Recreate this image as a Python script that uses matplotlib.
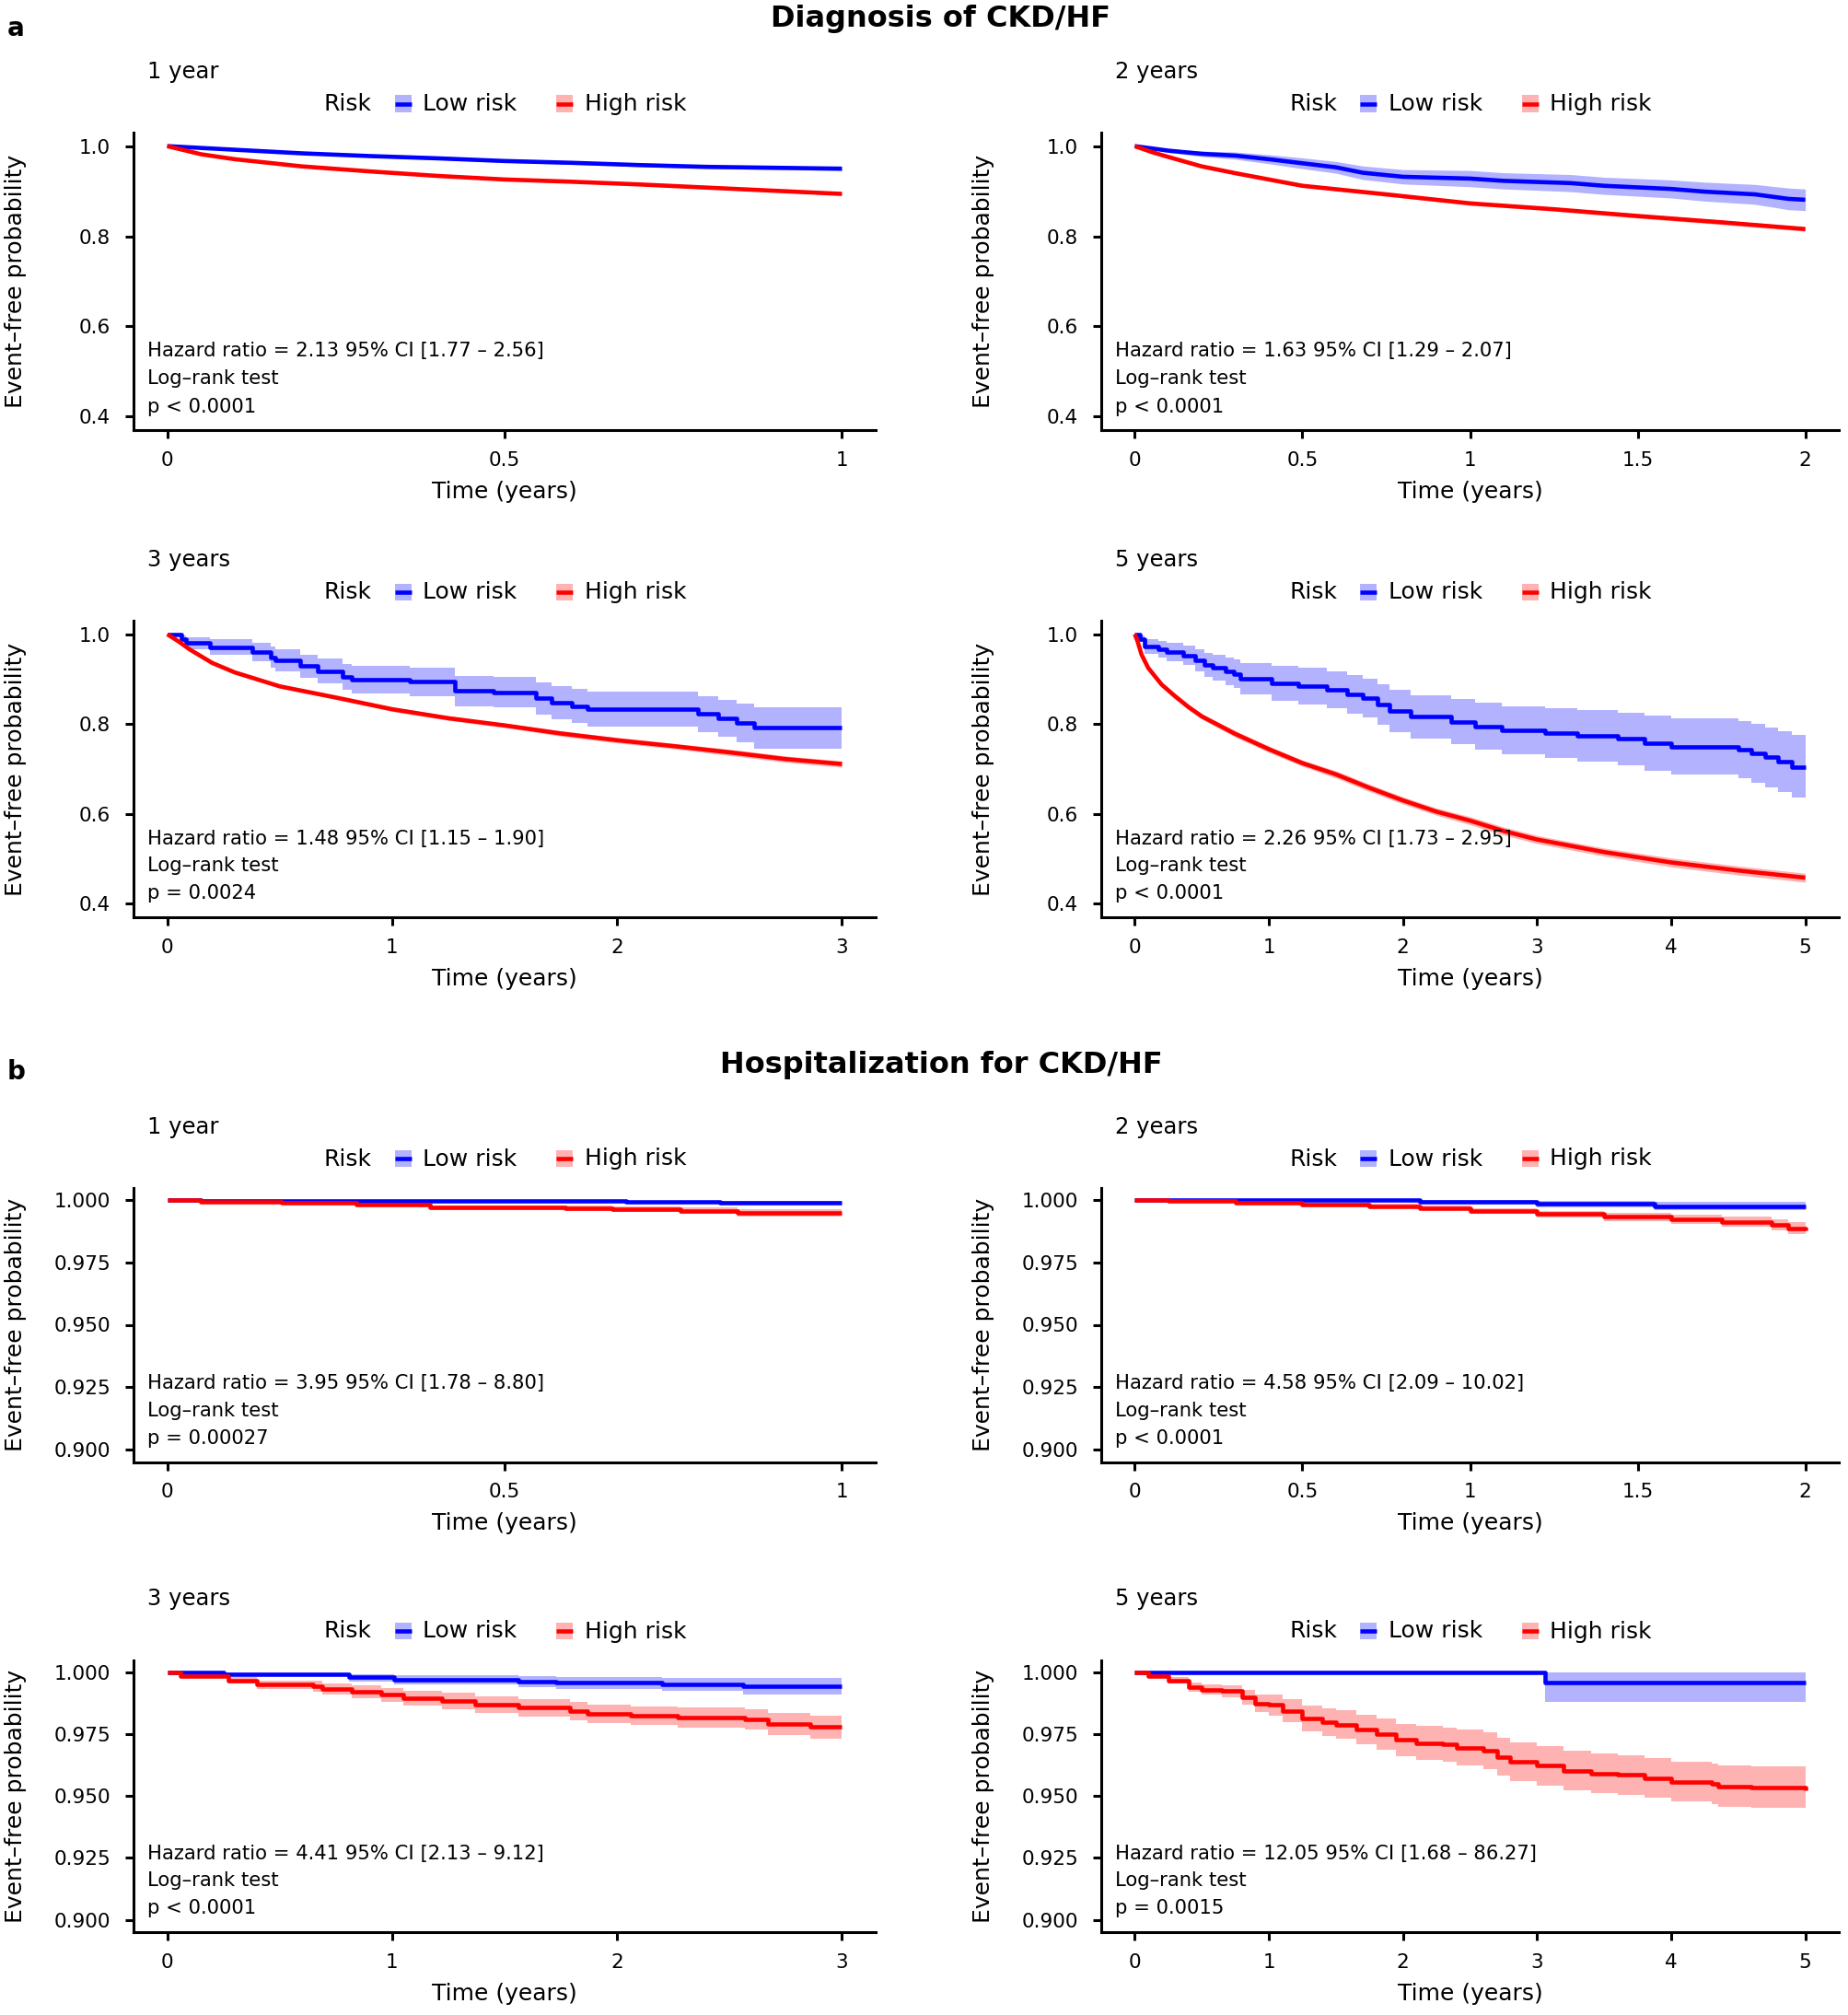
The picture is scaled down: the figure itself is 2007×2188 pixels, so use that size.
import matplotlib
matplotlib.use('Agg')
import matplotlib.pyplot as plt
from matplotlib.patches import Rectangle
from matplotlib.lines import Line2D

W, H = 2007, 2188
plt.rcParams['font.family'] = ['DejaVu Sans']

# ---------------- data ----------------
# (a) Diagnosis of CKD/HF
a1_low_t = [0, 0.1, 0.2, 0.3, 0.4, 0.5, 0.6, 0.7, 0.8, 0.9, 1.0]
a1_low_s = [1.0, 0.992, 0.984, 0.978, 0.973, 0.967, 0.963, 0.958, 0.954, 0.952, 0.950]
a1_low_hi = [1.0, 0.9935, 0.986, 0.9805, 0.976, 0.970, 0.9665, 0.9615, 0.958, 0.956, 0.9545]
a1_low_lo = [1.0, 0.9905, 0.982, 0.9755, 0.970, 0.964, 0.9595, 0.9545, 0.950, 0.948, 0.9455]
a1_high_t = [0, 0.05, 0.1, 0.15, 0.2, 0.3, 0.4, 0.5, 0.6, 0.7, 0.8, 0.9, 1.0]
a1_high_s = [1.0, 0.982, 0.971, 0.963, 0.955, 0.944, 0.934, 0.926, 0.921, 0.915, 0.908, 0.901, 0.894]
a1_high_hi = [1.0, 0.9835, 0.973, 0.965, 0.957, 0.946, 0.9362, 0.9284, 0.9235, 0.9175, 0.9106, 0.9037, 0.8968]
a1_high_lo = [1.0, 0.9805, 0.969, 0.961, 0.953, 0.942, 0.9318, 0.9236, 0.9185, 0.9125, 0.9054, 0.8983, 0.8912]

a2_low_t = [0, 0.1, 0.2, 0.3, 0.4, 0.5, 0.6, 0.68, 0.8, 1.0, 1.1, 1.3, 1.4, 1.6, 1.7, 1.85, 1.95, 2.0]
a2_low_s = [1.0, 0.99, 0.983, 0.979, 0.971, 0.962, 0.953, 0.941, 0.932, 0.928, 0.923, 0.918, 0.912, 0.905, 0.899, 0.893, 0.883, 0.881]
a2_low_hi = [1.0, 0.994, 0.989, 0.987, 0.981, 0.974, 0.966, 0.956, 0.948, 0.946, 0.941, 0.937, 0.931, 0.925, 0.920, 0.915, 0.907, 0.905]
a2_low_lo = [1.0, 0.986, 0.977, 0.971, 0.961, 0.950, 0.940, 0.926, 0.916, 0.910, 0.905, 0.899, 0.893, 0.885, 0.878, 0.871, 0.859, 0.857]
a2_high_t = [0, 0.05, 0.1, 0.2, 0.3, 0.5, 0.75, 1.0, 1.25, 1.5, 1.75, 2.0]
a2_high_s = [1.0, 0.987, 0.976, 0.955, 0.940, 0.912, 0.893, 0.873, 0.860, 0.845, 0.831, 0.816]
a2_high_hi = [1.0, 0.989, 0.978, 0.958, 0.943, 0.915, 0.897, 0.877, 0.864, 0.850, 0.836, 0.821]
a2_high_lo = [1.0, 0.985, 0.974, 0.952, 0.937, 0.909, 0.889, 0.869, 0.856, 0.840, 0.826, 0.811]

a3_low_t = [0, 0.063, 0.084, 0.19, 0.38, 0.46, 0.48, 0.59, 0.67, 0.78, 0.82, 1.08, 1.28, 1.45, 1.64, 1.71, 1.80, 1.87, 2.36, 2.45, 2.53, 2.61, 3.0]
a3_low_s = [1.0, 0.990, 0.980, 0.971, 0.960, 0.949, 0.942, 0.929, 0.918, 0.905, 0.899, 0.894, 0.874, 0.871, 0.857, 0.847, 0.840, 0.833, 0.822, 0.812, 0.802, 0.792, 0.792]
a3_low_hi = [1.0, 0.998, 0.994, 0.988, 0.980, 0.972, 0.966, 0.955, 0.946, 0.934, 0.929, 0.926, 0.908, 0.905, 0.893, 0.884, 0.878, 0.872, 0.862, 0.853, 0.845, 0.838, 0.838]
a3_low_lo = [1.0, 0.982, 0.966, 0.954, 0.940, 0.926, 0.918, 0.903, 0.890, 0.876, 0.869, 0.862, 0.840, 0.837, 0.821, 0.810, 0.802, 0.794, 0.782, 0.771, 0.759, 0.746, 0.746]
a3_high_t = [0, 0.05, 0.1, 0.2, 0.3, 0.5, 0.75, 1.0, 1.25, 1.5, 1.75, 2.0, 2.25, 2.5, 2.75, 3.0]
a3_high_s = [1.0, 0.984, 0.966, 0.936, 0.915, 0.884, 0.859, 0.833, 0.813, 0.797, 0.779, 0.764, 0.751, 0.737, 0.722, 0.711]
a3_high_hi = [1.0, 0.986, 0.968, 0.939, 0.918, 0.888, 0.863, 0.838, 0.818, 0.802, 0.785, 0.770, 0.757, 0.744, 0.729, 0.718]
a3_high_lo = [1.0, 0.982, 0.964, 0.933, 0.912, 0.880, 0.855, 0.828, 0.808, 0.792, 0.773, 0.758, 0.745, 0.730, 0.715, 0.704]

a4_low_t = [0, 0.04, 0.07, 0.175, 0.24, 0.36, 0.45, 0.52, 0.58, 0.675, 0.74, 0.79, 1.02, 1.22, 1.43, 1.58, 1.70,
            1.81, 1.90, 2.06, 2.36, 2.54, 2.74, 3.06, 3.3, 3.6, 3.8, 4.0, 4.5, 4.6, 4.7, 4.8, 4.9, 5.0]
a4_low_s = [1.0, 0.99, 0.973, 0.966, 0.960, 0.953, 0.942, 0.932, 0.925, 0.918, 0.912, 0.901, 0.891, 0.884, 0.877, 0.867, 0.857,
            0.843, 0.829, 0.816, 0.805, 0.795, 0.786, 0.780, 0.774, 0.767, 0.757, 0.750, 0.743, 0.735, 0.726, 0.716, 0.705, 0.705]
a4_low_hi = [1.0, 0.998, 0.99, 0.985, 0.98, 0.975, 0.966, 0.959, 0.954, 0.949, 0.944, 0.935, 0.93, 0.925, 0.918, 0.91, 0.90,
             0.888, 0.876, 0.864, 0.855, 0.847, 0.84, 0.836, 0.831, 0.826, 0.819, 0.813, 0.807, 0.80, 0.793, 0.785, 0.775, 0.775]
a4_low_lo = [1.0, 0.982, 0.956, 0.947, 0.94, 0.931, 0.918, 0.905, 0.896, 0.887, 0.88, 0.867, 0.852, 0.843, 0.836, 0.824, 0.814,
             0.798, 0.782, 0.768, 0.755, 0.743, 0.732, 0.725, 0.717, 0.708, 0.696, 0.688, 0.679, 0.67, 0.66, 0.648, 0.636, 0.636]
a4_high_t = [0, 0.02, 0.05, 0.1, 0.2, 0.3, 0.4, 0.5, 0.75, 1.0, 1.25, 1.5, 1.75, 2.0, 2.25, 2.5, 2.75, 3.0, 3.5, 4.0, 4.5, 5.0]
a4_high_s = [1.0, 0.985, 0.955, 0.925, 0.888, 0.862, 0.838, 0.817, 0.778, 0.744, 0.713, 0.688, 0.658, 0.630, 0.605, 0.585,
             0.562, 0.543, 0.515, 0.492, 0.474, 0.458]
a4_high_hi = [1.0, 0.988, 0.959, 0.930, 0.893, 0.868, 0.844, 0.823, 0.785, 0.751, 0.720, 0.696, 0.666, 0.638, 0.613, 0.594,
              0.571, 0.552, 0.524, 0.502, 0.484, 0.468]
a4_high_lo = [1.0, 0.982, 0.951, 0.920, 0.883, 0.856, 0.832, 0.811, 0.771, 0.737, 0.706, 0.680, 0.650, 0.622, 0.597, 0.576,
              0.553, 0.534, 0.506, 0.482, 0.464, 0.448]

# (b) Hospitalization for CKD/HF
b1_low_t = [0, 0.05, 0.28, 0.68, 0.82, 1.0]
b1_low_s = [1.0, 0.9998, 0.9995, 0.9993, 0.999, 0.9988]
b1_low_hi = [1.0, 1.0, 0.9999, 0.9998, 0.9996, 0.9995]
b1_low_lo = [1.0, 0.9996, 0.9991, 0.9988, 0.9984, 0.9981]
b1_high_t = [0, 0.05, 0.17, 0.28, 0.39, 0.59, 0.66, 0.76, 0.845, 1.0]
b1_high_s = [1.0, 0.9994, 0.9988, 0.9982, 0.9969, 0.9967, 0.9963, 0.9957, 0.9948, 0.9948]
b1_high_hi = [1.0, 0.9997, 0.9993, 0.9989, 0.9978, 0.9977, 0.9974, 0.9970, 0.9964, 0.9964]
b1_high_lo = [1.0, 0.9991, 0.9983, 0.9975, 0.9960, 0.9957, 0.9952, 0.9944, 0.9932, 0.9932]

b2_low_t = [0, 0.85, 1.2, 1.55, 2.0]
b2_low_s = [1.0, 0.9992, 0.9984, 0.9976, 0.9976]
b2_low_hi = [1.0, 0.9999, 0.9996, 0.9992, 0.9992]
b2_low_lo = [1.0, 0.9984, 0.9972, 0.9960, 0.9960]
b2_high_t = [0, 0.1, 0.3, 0.5, 0.7, 0.85, 1.0, 1.2, 1.4, 1.6, 1.75, 1.9, 1.95, 2.0]
b2_high_s = [1.0, 0.9997, 0.999, 0.9983, 0.9975, 0.9968, 0.9955, 0.9943, 0.9933, 0.9923, 0.9912, 0.99, 0.9887, 0.9880]
b2_high_hi = [1.0, 0.9999, 0.9995, 0.9990, 0.9984, 0.9978, 0.9967, 0.9957, 0.9949, 0.9941, 0.9932, 0.9922, 0.9910, 0.9904]
b2_high_lo = [1.0, 0.9995, 0.9985, 0.9976, 0.9966, 0.9958, 0.9943, 0.9929, 0.9917, 0.9905, 0.9892, 0.9878, 0.9864, 0.9856]

b3_low_t = [0, 0.25, 0.81, 1.01, 1.56, 1.73, 2.2, 2.56, 3.0]
b3_low_s = [1.0, 0.9993, 0.998, 0.997, 0.9961, 0.9957, 0.9951, 0.9943, 0.9943]
b3_low_hi = [1.0, 0.9999, 0.9993, 0.9988, 0.9983, 0.9982, 0.9979, 0.9976, 0.9976]
b3_low_lo = [1.0, 0.9986, 0.9962, 0.995, 0.9939, 0.9933, 0.9925, 0.9909, 0.9909]
b3_high_t = [0, 0.06, 0.27, 0.40, 0.65, 0.69, 0.82, 0.95, 1.05, 1.22, 1.37, 1.56, 1.79, 1.87, 2.06, 2.27, 2.57, 2.67, 2.86, 3.0]
b3_high_s = [1.0, 0.9983, 0.9968, 0.9950, 0.9944, 0.9934, 0.9921, 0.9909, 0.9897, 0.9884, 0.9869, 0.9857, 0.9844, 0.9833,
             0.9825, 0.9817, 0.9810, 0.9791, 0.9779, 0.9779]
b3_high_hi = [1.0, 0.9990, 0.9980, 0.9966, 0.9965, 0.9956, 0.9946, 0.9937, 0.9927, 0.9916, 0.9902, 0.9892, 0.9880, 0.9870,
              0.9863, 0.9857, 0.9852, 0.9835, 0.9825, 0.9825]
b3_high_lo = [1.0, 0.9976, 0.9956, 0.9934, 0.9923, 0.9912, 0.9896, 0.9881, 0.9867, 0.9852, 0.9836, 0.9822, 0.9808, 0.9796,
              0.9787, 0.9777, 0.9768, 0.9747, 0.9733, 0.9733]

b4_low_t = [0, 3.06, 5.0]
b4_low_s = [1.0, 0.9959, 0.9959]
b4_low_hi = [1.0, 1.0, 1.0]
b4_low_lo = [1.0, 0.9880, 0.9880]
b4_high_t = [0, 0.1, 0.25, 0.4, 0.5, 0.65, 0.8, 0.9, 1.0, 1.1, 1.25, 1.4, 1.5, 1.65, 1.8, 1.95, 2.1, 2.3, 2.4, 2.6, 2.7,
             2.8, 3.0, 3.2, 3.4, 3.6, 3.8, 4.0, 4.3, 4.35, 4.6, 5.0]
b4_high_s = [1.0, 0.9985, 0.9967, 0.994, 0.993, 0.9924, 0.990, 0.9874, 0.9868, 0.9844, 0.9813, 0.980, 0.9788, 0.977, 0.9751,
             0.9727, 0.9714, 0.9708, 0.9696, 0.9684, 0.9659, 0.964, 0.9622, 0.9603, 0.9591, 0.9585, 0.9573, 0.9558, 0.955,
             0.9539, 0.9536, 0.9523]
b4_high_hi = [1.0, 0.9993, 0.9980, 0.9958, 0.9950, 0.9949, 0.9930, 0.9910, 0.9911, 0.9891, 0.9865, 0.9856, 0.9846, 0.9830,
              0.9814, 0.9793, 0.9782, 0.9778, 0.9768, 0.9758, 0.9735, 0.9718, 0.9702, 0.9683, 0.9671, 0.9665, 0.9653,
              0.9638, 0.9632, 0.9622, 0.9621, 0.9610]
b4_high_lo = [1.0, 0.9977, 0.9954, 0.9922, 0.9910, 0.9899, 0.9870, 0.9838, 0.9825, 0.9797, 0.9761, 0.9744, 0.9730, 0.9710,
              0.9688, 0.9661, 0.9646, 0.9638, 0.9624, 0.9610, 0.9583, 0.9562, 0.9542, 0.9523, 0.9511, 0.9505, 0.9493,
              0.9478, 0.9468, 0.9456, 0.9451, 0.9436]

section_titles = ['Diagnosis of CKD/HF', 'Hospitalization for CKD/HF']
section_letters = ['a', 'b']
subtitles = ['1 year', '2 years', '3 years', '5 years']
horizons = [1, 2, 3, 5]
xtick_vals = [[0, 0.5, 1], [0, 0.5, 1, 1.5, 2], [0, 1, 2, 3], [0, 1, 2, 3, 4, 5]]
xtick_labels = [['0', '0.5', '1'], ['0', '0.5', '1', '1.5', '2'], ['0', '1', '2', '3'], ['0', '1', '2', '3', '4', '5']]
a_yticks = [0.4, 0.6, 0.8, 1.0]
a_ytick_labels = ['0.4', '0.6', '0.8', '1.0']
b_yticks = [0.900, 0.925, 0.950, 0.975, 1.000]
b_ytick_labels = ['0.900', '0.925', '0.950', '0.975', '1.000']
hr_texts = ['Hazard ratio = 2.13 95% CI [1.77 – 2.56]', 'Hazard ratio = 1.63 95% CI [1.29 – 2.07]',
            'Hazard ratio = 1.48 95% CI [1.15 – 1.90]', 'Hazard ratio = 2.26 95% CI [1.73 – 2.95]',
            'Hazard ratio = 3.95 95% CI [1.78 – 8.80]', 'Hazard ratio = 4.58 95% CI [2.09 – 10.02]',
            'Hazard ratio = 4.41 95% CI [2.13 – 9.12]', 'Hazard ratio = 12.05 95% CI [1.68 – 86.27]']
p_texts = ['p < 0.0001', 'p < 0.0001', 'p = 0.0024', 'p < 0.0001',
           'p = 0.00027', 'p < 0.0001', 'p < 0.0001', 'p = 0.0015']
legend_title = 'Risk'
group_labels = ['Low risk', 'High risk']

curves = [
    ((a1_low_t, a1_low_s, a1_low_lo, a1_low_hi), (a1_high_t, a1_high_s, a1_high_lo, a1_high_hi)),
    ((a2_low_t, a2_low_s, a2_low_lo, a2_low_hi), (a2_high_t, a2_high_s, a2_high_lo, a2_high_hi)),
    ((a3_low_t, a3_low_s, a3_low_lo, a3_low_hi), (a3_high_t, a3_high_s, a3_high_lo, a3_high_hi)),
    ((a4_low_t, a4_low_s, a4_low_lo, a4_low_hi), (a4_high_t, a4_high_s, a4_high_lo, a4_high_hi)),
    ((b1_low_t, b1_low_s, b1_low_lo, b1_low_hi), (b1_high_t, b1_high_s, b1_high_lo, b1_high_hi)),
    ((b2_low_t, b2_low_s, b2_low_lo, b2_low_hi), (b2_high_t, b2_high_s, b2_high_lo, b2_high_hi)),
    ((b3_low_t, b3_low_s, b3_low_lo, b3_low_hi), (b3_high_t, b3_high_s, b3_high_lo, b3_high_hi)),
    ((b4_low_t, b4_low_s, b4_low_lo, b4_low_hi), (b4_high_t, b4_high_s, b4_high_lo, b4_high_hi)),
]
# step drawing (True) or smooth drawing (False) per curve
step_flags = [(False, False), (False, False), (True, False), (True, False),
              (True, True), (True, True), (True, True), (True, True)]

# ---------------- styling / layout ----------------
LOW_C = '#0000FF'
HIGH_C = '#FF0000'
COLS = [LOW_C, HIGH_C]
LW = 3.3
SPINE_W = 2.2
FS_TICK = 15.5
FS_LAB = 18
FS_SUB = 17.5
FS_LEG = 18
FS_HR = 15.2
FS_TITLE = 23
FS_LETTER = 20

col_x = [(145, 951), (1196, 1997)]
row_y = [(144, 467), (674, 996), (1289.5, 1587.5), (1802.5, 2098)]

fig = plt.figure(figsize=(W / 100, H / 100), dpi=100)


def fx(x):
    return x / W


def fy(y):
    return 1 - y / H


for k in range(8):
    sec = k // 4
    j = k % 4
    l, r = col_x[j % 2]
    t, b = row_y[sec * 2 + j // 2]
    ax = fig.add_axes([fx(l), fy(b), (r - l) / W, (b - t) / H])
    T = horizons[j]
    for g in range(2):
        tt, s, lo, hi = curves[k][g]
        st = 'post' if step_flags[k][g] else None
        ax.fill_between(tt, lo, hi, step=st, color=COLS[g], alpha=0.3, lw=0)
    for g in range(2):
        tt, s, lo, hi = curves[k][g]
        if step_flags[k][g]:
            ax.step(tt, s, where='post', color=COLS[g], lw=LW, solid_capstyle='butt')
        else:
            ax.plot(tt, s, color=COLS[g], lw=LW, solid_capstyle='butt')
    ax.set_xlim(-0.05 * T, 1.05 * T)
    if sec == 0:
        ax.set_ylim(0.37, 1.03)
        ax.set_yticks(a_yticks)
        ax.set_yticklabels(a_ytick_labels)
    else:
        ax.set_ylim(0.895, 1.005)
        ax.set_yticks(b_yticks)
        ax.set_yticklabels(b_ytick_labels)
    ax.set_xticks(xtick_vals[j])
    ax.set_xticklabels(xtick_labels[j])
    for sp in ['top', 'right']:
        ax.spines[sp].set_visible(False)
    for sp in ['left', 'bottom']:
        ax.spines[sp].set_linewidth(SPINE_W)
    ax.tick_params(axis='both', length=6.5, width=SPINE_W, labelsize=FS_TICK, color='black')
    ax.tick_params(axis='y', pad=11.5)
    ax.tick_params(axis='x', pad=10)
    ax.patch.set_visible(False)

    cx = (l + r) / 2
    # subtitle
    fig.text(fx(l + 15), fy(t - 59), subtitles[j], ha='left', va='baseline', fontsize=FS_SUB)
    # legend
    fig.text(fx(cx - 196), fy(t - 24), legend_title, ha='left', va='baseline', fontsize=FS_LEG)
    key_cx = [cx - 110.5, cx + 65]
    lab_x = [cx - 89, cx + 86.6]
    for g in range(2):
        kx, ky = key_cx[g], t - 31.5
        fig.add_artist(Rectangle((fx(kx - 9), fy(ky + 9)), 18 / W, 18 / H, transform=fig.transFigure,
                                 facecolor=COLS[g], alpha=0.3, lw=0))
        fig.add_artist(Line2D([fx(kx - 9), fx(kx + 9)], [fy(ky), fy(ky)], transform=fig.transFigure,
                              color=COLS[g], lw=LW, solid_capstyle='butt'))
        fig.text(fx(lab_x[g]), fy(t - 24), group_labels[g], ha='left', va='baseline', fontsize=FS_LEG)
    # annotation
    fig.text(fx(l + 15), fy(b - 79.5), hr_texts[k], ha='left', va='baseline', fontsize=FS_HR)
    fig.text(fx(l + 15), fy(b - 50), 'Log–rank test', ha='left', va='baseline', fontsize=FS_HR)
    fig.text(fx(l + 15), fy(b - 19.5), p_texts[k], ha='left', va='baseline', fontsize=FS_HR)
    # axis labels
    fig.text(fx(cx), fy(b + 74), 'Time (years)', ha='center', va='baseline', fontsize=FS_LAB)
    fig.text(fx(l - 128), fy((t + b) / 2), 'Event–free probability', ha='center', va='center',
             rotation=90, fontsize=FS_LAB)

# section headers
fig.text(fx(8), fy(31), section_letters[0], ha='left', va='center', fontsize=FS_LETTER, fontweight='bold')
fig.text(fx(1022), fy(21), section_titles[0], ha='center', va='center', fontsize=FS_TITLE, fontweight='bold')
fig.text(fx(8), fy(1164), section_letters[1], ha='left', va='center', fontsize=FS_LETTER, fontweight='bold')
fig.text(fx(1022), fy(1156), section_titles[1], ha='center', va='center', fontsize=FS_TITLE, fontweight='bold')

fig.savefig('out.png', dpi=100, facecolor='white')
